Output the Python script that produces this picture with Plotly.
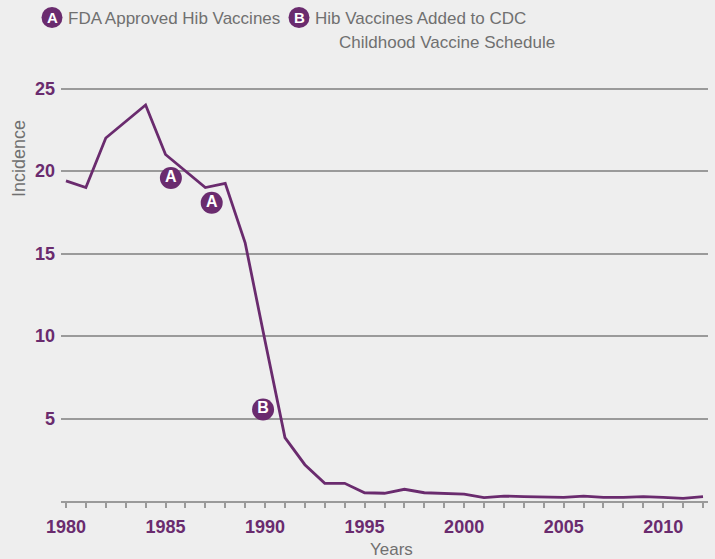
import plotly.graph_objects as go

years = list(range(1980, 2013))
incidence = [19.4, 19.0, 22.0, 23.0, 24.0, 21.0, 20.0, 19.0, 19.25, 15.65,
             9.7, 3.84, 2.2, 1.07, 1.07, 0.5, 0.47, 0.71, 0.5, 0.47,
             0.42, 0.2, 0.3, 0.26, 0.22, 0.22, 0.3, 0.22, 0.22, 0.26,
             0.22, 0.16, 0.26]

marker_years = [1985.27, 1987.32, 1989.9]
marker_values = [19.58, 18.08, 5.55]
marker_labels = ["A", "A", "B"]

ytick_vals = [5, 10, 15, 20, 25]
xtick_labels = [str(y) if y % 5 == 0 else "" for y in years]

PURPLE = "#6a2b6e"
GREY_TXT = "#707070"
GRID = "#9a9a9a"
TICKFONT = dict(family="Liberation Sans, Arial, Helvetica", size=18, color=PURPLE, weight="bold")
TXTFONT = dict(family="Liberation Sans, Arial, Helvetica", size=17, color=GREY_TXT)
BADGEFONT = dict(family="Liberation Sans, Arial, Helvetica", size=16, color="white", weight="bold")

fig = go.Figure()
fig.add_trace(go.Scatter(x=years, y=incidence, mode="lines",
                         line=dict(color=PURPLE, width=2.8), hoverinfo="skip"))
fig.add_trace(go.Scatter(x=marker_years, y=marker_values, mode="markers+text",
                         marker=dict(size=22, color=PURPLE, line=dict(width=0)),
                         text=marker_labels,
                         textposition="middle center", textfont=BADGEFONT,
                         hoverinfo="skip"))

W, H = 715, 559
ml, mr, mt, mb = 61, 7, 72, 58
pw, ph = W - ml - mr, H - mt - mb

def px_x(px):
    return (px - ml) / pw

def px_y(py):
    return (H - mb - py) / ph

shapes = []
annotations = []
for cx, label in [(52, "A"), (299, "B")]:
    shapes.append(dict(type="circle", xref="paper", yref="paper", xsizemode="pixel", ysizemode="pixel",
                       xanchor=px_x(cx), yanchor=px_y(17.5), x0=-10.5, x1=10.5, y0=-10.5, y1=10.5,
                       fillcolor=PURPLE, line=dict(width=0), layer="above"))
    annotations.append(dict(x=px_x(cx), y=px_y(17.5), xref="paper", yref="paper", text=label,
                            showarrow=False, font=dict(BADGEFONT, size=15), xanchor="center", yanchor="middle"))

annotations += [
    dict(x=px_x(66), y=px_y(18), xref="paper", yref="paper", text="FDA Approved Hib Vaccines",
         showarrow=False, font=TXTFONT, xanchor="left", yanchor="middle"),
    dict(x=px_x(313), y=px_y(18), xref="paper", yref="paper", text="Hib Vaccines Added to CDC",
         showarrow=False, font=TXTFONT, xanchor="left", yanchor="middle"),
    dict(x=px_x(337), y=px_y(43), xref="paper", yref="paper", text="Childhood Vaccine Schedule",
         showarrow=False, font=TXTFONT, xanchor="left", yanchor="middle"),
    dict(x=px_x(19), y=px_y(159), xref="paper", yref="paper", text="Incidence", textangle=-90,
         showarrow=False, font=dict(TXTFONT, size=18), xanchor="center", yanchor="middle"),
    dict(x=px_x(391.5), y=px_y(549), xref="paper", yref="paper", text="Years",
         showarrow=False, font=TXTFONT, xanchor="center", yanchor="middle"),
]

fig.update_layout(
    width=W, height=H,
    margin=dict(l=ml, r=mr, t=mt, b=mb, pad=0),
    paper_bgcolor="#eeeeee", plot_bgcolor="#eeeeee",
    showlegend=False,
    shapes=shapes, annotations=annotations,
    xaxis=dict(range=[1979.75, 2012.25], tickvals=years, ticktext=xtick_labels,
               ticks="outside", ticklen=5, tickwidth=1.5, tickcolor=GRID,
               showline=True, linecolor=GRID, linewidth=1.5, showgrid=False, zeroline=False,
               tickfont=TICKFONT, ticklabelstandoff=4, fixedrange=True),
    yaxis=dict(range=[0, 26], tickvals=ytick_vals, ticks="", showline=False,
               showgrid=True, gridcolor=GRID, gridwidth=1.5, zeroline=False,
               tickfont=TICKFONT, ticklabelstandoff=5, fixedrange=True),
)

fig.write_html("out.html", config={"displayModeBar": False, "staticPlot": False},
               post_script="document.body.style.margin='0';document.body.style.background='#eeeeee';")
